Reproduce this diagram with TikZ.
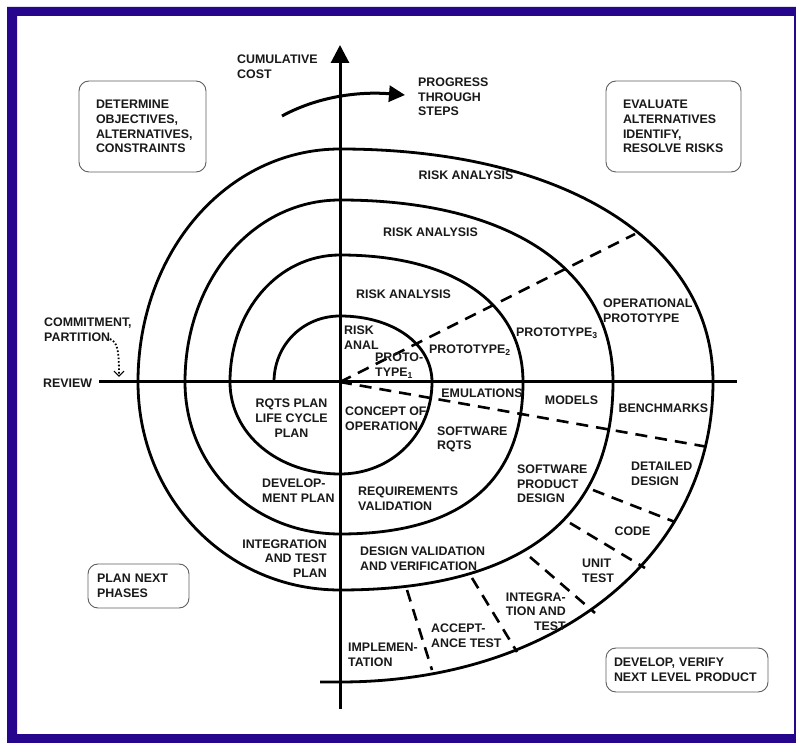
\documentclass[tikz,border=0pt]{standalone}
\usepackage{fontspec}
\setmainfont{Liberation Sans}
\usetikzlibrary{arrows.meta}
\definecolor{frame}{RGB}{38,6,140}
\definecolor{boxline}{RGB}{95,95,95}
\begin{document}
\begin{tikzpicture}[x=1pt,y=-1pt,
  lbl/.style={font=\fontsize{12.4}{14.7}\selectfont\bfseries, inner sep=0pt, text=black!90},
  L/.style={lbl, align=left, anchor=west},
  C/.style={lbl, align=center},
  R/.style={lbl, align=right, anchor=east},
  qbox/.style={lbl, draw=boxline, line width=0.9pt, rounded corners=10pt, align=left},
  curve/.style={line width=2.8pt},
  axis/.style={line width=3pt},
  dsh/.style={line width=2.6pt, dash pattern=on 12pt off 8pt},
]
\useasboundingbox (0,0) rectangle (796,743);
\fill[white] (0,0) rectangle (796,743);
\fill[frame, even odd rule] (7,7) rectangle (806,746) (17,16) rectangle (794,734);

% spiral
\begin{scope}[shift={(340,382)}, yscale=-1]
\draw[curve] (-66,0) .. controls (-66,37) and (-37,66) .. (0,66)
  .. controls (53,66) and (92,38) .. (92,0)
  .. controls (92,-52) and (52,-92) .. (0,-92)
  .. controls (-62,-92) and (-110,-52) .. (-110,0)
  .. controls (-110,71) and (-62,127) .. (0,127)
  .. controls (113,127) and (183,79) .. (183,0)
  .. controls (183,-100) and (121,-152) .. (0,-152)
  .. controls (-87,-152) and (-155,-85) .. (-155,0)
  .. controls (-155,102) and (-87,182) .. (0,182)
  .. controls (169,182) and (273,113) .. (273,0)
  .. controls (273,-137) and (180,-208) .. (0,-208)
  .. controls (-113,-208) and (-202,-116) .. (-202,0)
  .. controls (-202,130) and (-113,233) .. (0,233)
  .. controls (224,233) and (373,140) .. (373,0)
  .. controls (373,-174) and (216,-300) .. (0,-300)
  -- (-20,-300);
\end{scope}

% axes
\coordinate (O) at (340,382);
\coordinate (ytop) at (340,45);
\coordinate (ybot) at (340,709);
\coordinate (xl) at (99,382);
\coordinate (xr) at (737,382);
\draw[axis] (xl) -- (xr);
\draw[axis, -{Triangle[length=18pt,width=18pt]}] (ybot) -- (ytop);

% progress arrow
\coordinate (pa) at (282,116);
\coordinate (pb) at (405,95);
\draw[line width=3pt, -{Triangle[length=16pt,width=16pt]}] (pa) .. controls (315,98) and (355,91) .. (pb);

% commitment dotted arrow
\coordinate (ca) at (110,339);
\coordinate (cb) at (119,377);
\draw[line width=1.8pt, dash pattern=on 1.6pt off 2pt, -{Straight Barb[length=5pt,width=10pt,line width=1.2pt]}] (ca) .. controls (118,342) and (119,352) .. (cb);

% dashed lines
\coordinate (d1) at (635,234);
\coordinate (d2) at (708,447);
\draw[dsh] (O) -- (d1);
\draw[dsh] (O) -- (d2);
\coordinate (a1) at (593,490); \coordinate (a2) at (675,522);
\coordinate (b1) at (570,523); \coordinate (b2) at (645,568);
\coordinate (c1) at (530,557); \coordinate (c2) at (595,613);
\coordinate (e1) at (472,578); \coordinate (e2) at (517,652);
\coordinate (f1) at (407,590); \coordinate (f2) at (432,670);
\draw[dsh] (a1) -- (a2);
\draw[dsh] (b1) -- (b2);
\draw[dsh] (c1) -- (c2);
\draw[dsh] (e1) -- (e2);
\draw[dsh] (f1) -- (f2);

% boxes
\node[qbox, text width=93pt, inner xsep=17pt, minimum height=91pt] (det) at (142.5,126.5) {DETERMINE\\OBJECTIVES,\\ALTERNATIVES,\\CONSTRAINTS};
\node[qbox, text width=101pt, inner xsep=17pt, minimum height=91pt] (eval) at (673.5,126.5) {EVALUATE\\ALTERNATIVES\\IDENTIFY,\\RESOLVE RISKS};
\node[qbox, text width=83pt, inner xsep=9pt, minimum height=44pt] (plan) at (138.5,586) {PLAN NEXT\\PHASES};
\node[qbox, text width=146pt, inner xsep=8pt, minimum height=44pt] (dev) at (687,670) {DEVELOP, VERIFY\\NEXT LEVEL PRODUCT};

% free labels
\node[L] (cum) at (237,66.5) {CUMULATIVE\\COST};
\node[L] (prog) at (418,97) {PROGRESS\\THROUGH\\STEPS};
\node[L] (comm) at (44,329.5) {COMMITMENT,\\PARTITION};
\node[L] (rev) at (43,383) {REVIEW};

% upper right
\node[C] (ra4) at (466,175) {RISK ANALYSIS};
\node[C] (ra3) at (430.5,232) {RISK ANALYSIS};
\node[C] (ra2) at (403.5,294) {RISK ANALYSIS};
\node[L] (ra1) at (344,338) {RISK\\ANAL};
\node[L] (p1) at (375,365.5) {PROTO-\\TYPE\textsubscript{1}};
\node[C] (p2) at (470,350) {PROTOTYPE\textsubscript{2}};
\node[C] (p3) at (557,333) {PROTOTYPE\textsubscript{3}};
\node[L] (op) at (603,310.5) {OPERATIONAL\\PROTOTYPE};

% lower right
\node[C] (emu) at (482,393) {EMULATIONS};
\node[C] (mod) at (571.5,400) {MODELS};
\node[C] (ben) at (663.5,408) {BENCHMARKS};
\node[L] (con) at (345,419) {CONCEPT OF\\OPERATION};
\node[L] (srq) at (437,439.5) {SOFTWARE\\RQTS};
\node[L] (rqv) at (358,498.5) {REQUIREMENTS\\VALIDATION};
\node[L] (spd) at (517,484) {SOFTWARE\\PRODUCT\\DESIGN};
\node[L] (dd) at (631,473.5) {DETAILED\\DESIGN};
\node[C] (code) at (632.5,531) {CODE};
\node[L] (ut) at (582,570.5) {UNIT\\TEST};
\node[L] (dvv) at (360,559) {DESIGN VALIDATION\\AND VERIFICATION};
\node[R] (it) at (566,611.5) {INTEGRA-\\TION AND\\TEST};
\node[L] (acc) at (431,635.5) {ACCEPT-\\ANCE TEST};
\node[L] (imp) at (348,654.5) {IMPLEMEN-\\TATION};

% left
\node[C] (rqp) at (291.5,418) {RQTS PLAN\\LIFE CYCLE\\PLAN};
\node[L] (devp) at (262,491) {DEVELOP-\\MENT PLAN};
\node[R] (itp) at (327,558.5) {INTEGRATION\\AND TEST\\PLAN};
\end{tikzpicture}
\end{document}
